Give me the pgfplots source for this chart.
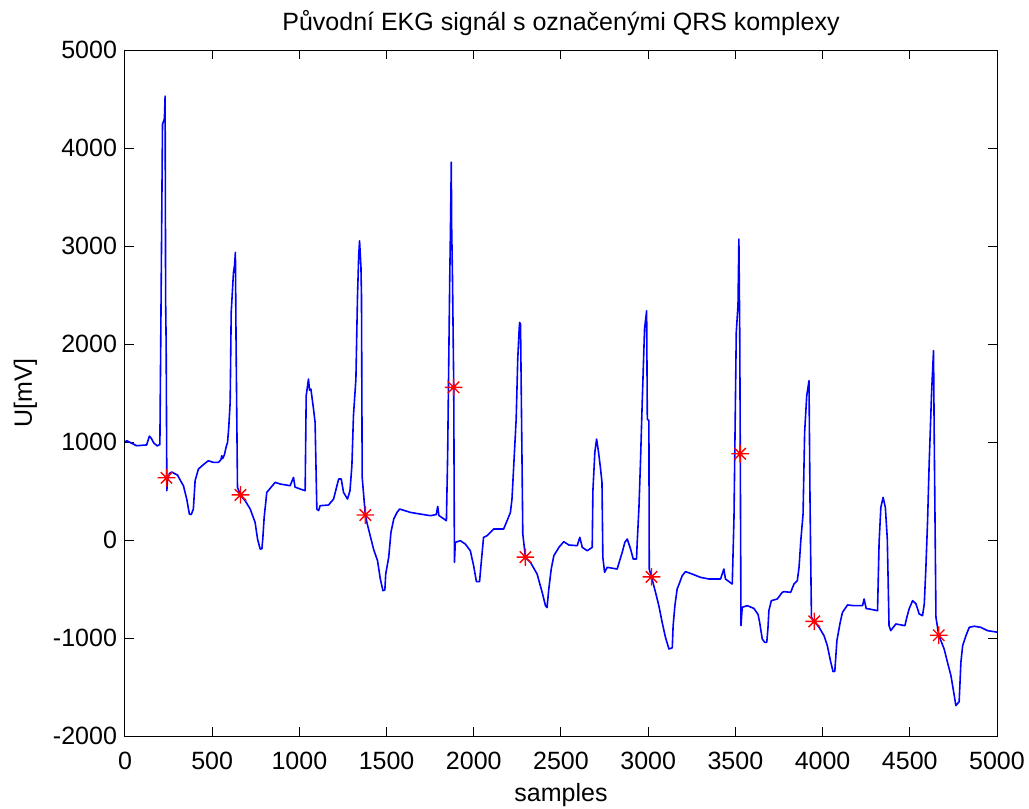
\documentclass[border=0pt]{standalone}
\usepackage{fontspec}
\setmainfont{Liberation Sans}
\usepackage{pgfplots}
\pgfplotsset{compat=1.18}
\definecolor{mblue}{RGB}{0,0,255}
\definecolor{mred}{RGB}{255,0,0}
\pgfdeclareplotmark{mstar}{%
  \pgfpathmoveto{\pgfqpoint{-\pgfplotmarksize}{0pt}}%
  \pgfpathlineto{\pgfqpoint{\pgfplotmarksize}{0pt}}%
  \pgfpathmoveto{\pgfqpoint{0pt}{-\pgfplotmarksize}}%
  \pgfpathlineto{\pgfqpoint{0pt}{\pgfplotmarksize}}%
  \pgfpathmoveto{\pgfqpoint{-0.65\pgfplotmarksize}{-0.65\pgfplotmarksize}}%
  \pgfpathlineto{\pgfqpoint{0.65\pgfplotmarksize}{0.65\pgfplotmarksize}}%
  \pgfpathmoveto{\pgfqpoint{-0.65\pgfplotmarksize}{0.65\pgfplotmarksize}}%
  \pgfpathlineto{\pgfqpoint{0.65\pgfplotmarksize}{-0.65\pgfplotmarksize}}%
  \pgfusepathqstroke}
\newcommand{\mfont}{\fontsize{12.5}{15}\selectfont}
\begin{document}
\begin{tikzpicture}
\path[use as bounding box] (-62.5pt,-36.5pt) rectangle (452pt,368pt);
\begin{axis}[
  at={(0,0)}, anchor=south west,
  width=436pt, height=343pt, scale only axis,
  xmin=0, xmax=5000, ymin=-2000, ymax=5000,
  xtick={0,500,...,5000}, ytick={-2000,-1000,...,5000},
  tick align=inside, major tick length=4.5pt,
  every tick/.style={black, line width=0.5pt},
  axis line style={black, line width=0.5pt},
  /pgf/number format/1000 sep={},
  /pgf/number format/assume math mode=true,
  tick label style={font=\mfont},
  xticklabel style={anchor=base, yshift=-16.5pt},
  yticklabel style={anchor=east, xshift=-0.5pt},
  title={Původní EKG signál s označenými QRS komplexy},
  every axis title/.style={font=\mfont, at={(axis description cs:0.5,1)}, anchor=base, yshift=10pt},
  xlabel={samples},
  xlabel style={font=\mfont, at={(axis description cs:0.5,0)}, anchor=base, yshift=-32.5pt},
  ylabel={U[mV]},
  ylabel style={font=\mfont, at={([xshift=-46.5pt]axis description cs:0,0.5)}, anchor=base},
]
\addplot[mblue, line width=0.8pt, line join=round] table {
x y
0 1000
10 1013
67 962
124 970
140 1060
150 1040
165 990
185 960
200 975
205 2030
215 4240
226 4300
230 4530
233 2440
236 2000
240 503
243 600
255 680
268 693
301 663
320 600
335 554
354 418
369 265
380 260
392 316
402 605
421 724
450 770
478 809
507 792
536 792
550 820
555 860
560 830
570 870
580 950
588 996
595 1150
603 1404
609 2323
622 2730
628 2800
633 2935
637 1982
645 537
664 452
689 401
718 316
746 180
760 10
775 -92
785 -90
790 10
798 231
813 486
861 588
890 571
947 554
966 639
975 540
990 530
1005 520
1033 503
1039 1472
1052 1642
1058 1530
1066 1540
1081 1336
1090 1200
1100 316
1110 300
1119 350
1167 357
1196 418
1225 622
1240 622
1253 486
1276 418
1290 503
1301 758
1310 1268
1324 1642
1333 2475
1340 2900
1345 3053
1353 2781
1356 2492
1360 640
1378 255
1387 180
1406 44
1425 -92
1448 -211
1464 -398
1479 -517
1490 -510
1495 -347
1512 -177
1525 78
1541 214
1560 282
1575 316
1636 282
1693 265
1751 248
1785 260
1793 343
1800 250
1843 197
1850 860
1862 2662
1866 3139
1871 3856
1873 3200
1878 2662
1885 1558
1889 -228
1894 -24
1923 -7
1951 -41
1980 -109
1999 -262
2015 -425
2033 -425
2041 -262
2056 27
2076 44
2114 112
2171 112
2191 197
2210 282
2219 418
2229 758
2243 1234
2252 1846
2260 2150
2263 2220
2268 2200
2281 61
2296 -177
2325 -228
2363 -347
2392 -534
2411 -670
2420 -690
2430 -500
2444 -296
2459 -160
2488 -75
2516 -17
2545 -51
2593 -58
2608 27
2622 -75
2650 -109
2679 -75
2683 503
2694 894
2704 1030
2715 900
2727 724
2735 588
2740 -177
2750 -330
2765 -279
2822 -296
2851 -126
2866 -24
2880 10
2899 -92
2914 -194
2933 -194
2937 -24
2947 333
2956 809
2966 1421
2979 2152
2991 2339
2995 1234
3004 1217
3006 -296
3019 -377
3042 -534
3061 -670
3080 -840
3099 -993
3119 -1112
3138 -1100
3143 -874
3153 -670
3166 -500
3181 -432
3195 -364
3214 -323
3252 -347
3300 -381
3348 -398
3415 -398
3434 -296
3443 -398
3482 -449
3492 231
3505 2118
3515 2400
3520 3070
3525 2100
3528 887
3532 -874
3539 -687
3568 -670
3606 -698
3630 -760
3639 -840
3654 -1010
3668 -1044
3680 -1044
3687 -891
3692 -721
3706 -619
3740 -602
3769 -534
3779 -527
3817 -534
3836 -449
3855 -415
3865 -279
3875 -7
3888 265
3897 1099
3909 1472
3922 1625
3928 384
3936 -789
3952 -830
3980 -891
4008 -976
4027 -1078
4047 -1248
4060 -1343
4070 -1340
4082 -1027
4101 -840
4114 -738
4143 -663
4181 -670
4229 -670
4238 -602
4250 -700
4267 -704
4315 -721
4324 -24
4334 333
4347 435
4360 330
4371 10
4381 -874
4391 -925
4420 -857
4472 -874
4483 -789
4496 -704
4516 -619
4535 -650
4554 -755
4573 -772
4583 -653
4592 -296
4602 197
4611 775
4625 1506
4636 1931
4640 1064
4650 -789
4666 -972
4697 -1112
4716 -1248
4736 -1384
4755 -1588
4764 -1690
4783 -1650
4793 -1248
4803 -1078
4822 -976
4841 -891
4869 -880
4907 -891
4946 -925
5000 -940
};
\addplot[only marks, mark=mstar, mark size=4.4pt, mred, line width=0.7pt] table {
x y
238 635
662 460
1378 255
1884 1558
2296 -175
3019 -377
3527 880
3952 -830
4666 -972
};
\end{axis}
\end{tikzpicture}
\end{document}
